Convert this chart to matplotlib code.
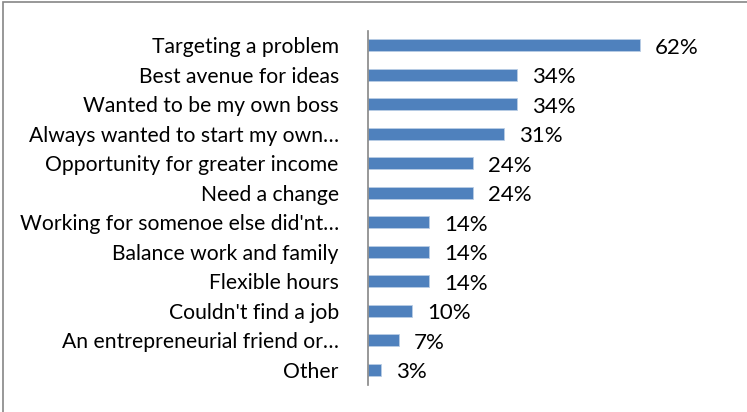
import matplotlib.pyplot as plt
from matplotlib.patches import Rectangle

reasons = [
    "Targeting a problem",
    "Best avenue for ideas",
    "Wanted to be my own boss",
    "Always wanted to start my own…",
    "Opportunity for greater income",
    "Need a change",
    "Working for somenoe else did'nt…",
    "Balance work and family",
    "Flexible hours",
    "Couldn't find a job",
    "An entrepreneurial friend or…",
    "Other",
]
shares = [62, 34, 34, 31, 24, 24, 14, 14, 14, 10, 7, 3]

BAR = "#4F81BD"
FONT = ["Lato", "DejaVu Sans"]

fig = plt.figure(figsize=(7.47, 4.12), dpi=100)
W, H = 747, 412

# chart area frame (only top and left edges show)
fig.add_artist(Rectangle((3 / W, -0.1), 2.0, 1.1 - 2 / H, transform=fig.transFigure,
                         fill=False, edgecolor="#868686", linewidth=1.2))

top, bottom = 30.5, 384.5
ax = fig.add_axes([368 / W, 1 - bottom / H, (675 - 368) / W, (bottom - top) / H])

pos = list(range(len(reasons)))
ax.barh(pos, shares, height=0.42, color=BAR, edgecolor="#B9CDE5", linewidth=0.6)
ax.set_xlim(0, 70)
ax.set_ylim(len(reasons) - 0.5, -0.5)

for p, v in zip(pos, shares):
    ax.text(v + 3.4, p + 0.08, f"{v}%", va="center", ha="left", fontsize=16,
            family=FONT, color="black")

ax.set_yticks(pos)
ax.set_yticklabels(reasons, fontsize=15.2, family=FONT)
ax.tick_params(axis="y", length=0, pad=21)
ax.set_xticks([])
for side in ["top", "right", "bottom"]:
    ax.spines[side].set_visible(False)
ax.spines["left"].set_color("#868686")
ax.spines["left"].set_linewidth(1.2)

fig.savefig("out.png", dpi=100)
